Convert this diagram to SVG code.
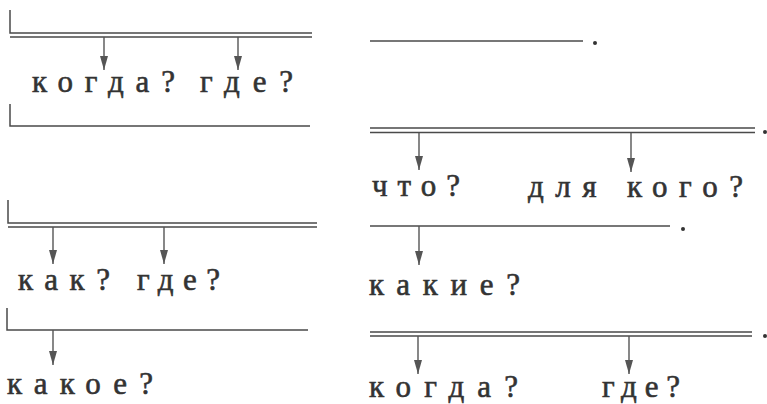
<svg xmlns="http://www.w3.org/2000/svg" width="767" height="404" viewBox="0 0 767 404">
<defs>
<style>
.ln{stroke:#4a4a4a;stroke-width:1.5;fill:none}
.ar{stroke:#555;stroke-width:1.4;fill:none;marker-end:url(#ah)}
.dot{fill:#333}
</style>
<marker id="ah" markerUnits="userSpaceOnUse" markerWidth="16" markerHeight="9" refX="14" refY="4" orient="auto">
<path d="M0,0 L14,4 L0,8 z" fill="#555"/>
</marker>
</defs>
<rect width="767" height="404" fill="#fff"/>

<g id="scheme1">
<path class="ln" d="M10,10 V33 H312 M10,37 H312"/>
<text x="32" y="92" font-family="Liberation Serif, serif" font-size="31" font-weight="normal" fill="#333" stroke="#333" stroke-width="0.6" textLength="143" lengthAdjust="spacing" style="font-family:'Liberation Serif',serif;font-size:31px">когда?</text>
<text x="200" y="92" font-family="Liberation Serif, serif" font-size="31" font-weight="normal" fill="#333" stroke="#333" stroke-width="0.6" textLength="93" lengthAdjust="spacing" style="font-family:'Liberation Serif',serif;font-size:31px">где?</text>
</g>
<g id="scheme2">
<path class="ln" d="M10,104 V126 H310"/>
</g>
<g id="scheme3">
<path class="ln" d="M8,200 V223 H317 M8,227 H317"/>
<text x="18" y="290" font-family="Liberation Serif, serif" font-size="31" font-weight="normal" fill="#333" stroke="#333" stroke-width="0.6" textLength="92" lengthAdjust="spacing" style="font-family:'Liberation Serif',serif;font-size:31px">как?</text>
<text x="137" y="290" font-family="Liberation Serif, serif" font-size="31" font-weight="normal" fill="#333" stroke="#333" stroke-width="0.6" textLength="83" lengthAdjust="spacing" style="font-family:'Liberation Serif',serif;font-size:31px">где?</text>
</g>
<g id="scheme4">
<path class="ln" d="M7,308 V330 H308"/>
<text x="7" y="394" font-family="Liberation Serif, serif" font-size="31" font-weight="normal" fill="#333" stroke="#333" stroke-width="0.6" textLength="146" lengthAdjust="spacing" style="font-family:'Liberation Serif',serif;font-size:31px">какое?</text>
</g>

<g id="line1">
<path class="ln" d="M370,41 H583"/>
<circle class="dot" cx="595" cy="43" r="2"/>
</g>
<g id="line2">
<path class="ln" d="M370,128 H755 M370,132.5 H755"/>
<circle class="dot" cx="765" cy="132" r="2"/>
<text x="372" y="196" font-family="Liberation Serif, serif" font-size="31" font-weight="normal" fill="#333" stroke="#333" stroke-width="0.6" textLength="88" lengthAdjust="spacing" style="font-family:'Liberation Serif',serif;font-size:31px">что?</text>
<text x="528" y="197" font-family="Liberation Serif, serif" font-size="31" font-weight="normal" fill="#333" stroke="#333" stroke-width="0.6" textLength="215" lengthAdjust="spacing" style="font-family:'Liberation Serif',serif;font-size:31px">для кого?</text>
</g>
<g id="line3">
<path class="ln" d="M370,226 H670"/>
<circle class="dot" cx="683" cy="229" r="2"/>
<text x="369" y="295" font-family="Liberation Serif, serif" font-size="31" font-weight="normal" fill="#333" stroke="#333" stroke-width="0.6" textLength="151" lengthAdjust="spacing" style="font-family:'Liberation Serif',serif;font-size:31px">какие?</text>
</g>
<g id="line4">
<path class="ln" d="M370,332 H752 M370,336 H752"/>
<circle class="dot" cx="765" cy="336" r="2"/>
<text x="369" y="397" font-family="Liberation Serif, serif" font-size="31" font-weight="normal" fill="#333" stroke="#333" stroke-width="0.6" textLength="149" lengthAdjust="spacing" style="font-family:'Liberation Serif',serif;font-size:31px">когда?</text>
<text x="602" y="397" font-family="Liberation Serif, serif" font-size="31" font-weight="normal" fill="#333" stroke="#333" stroke-width="0.6" textLength="78" lengthAdjust="spacing" style="font-family:'Liberation Serif',serif;font-size:31px">где?</text>
</g>

<g id="connectors">
<line class="ar" x1="104" y1="37" x2="104" y2="70"/>
<line class="ar" x1="238" y1="37" x2="238" y2="70"/>
<line class="ar" x1="53" y1="227" x2="53" y2="264"/>
<line class="ar" x1="164" y1="227" x2="164" y2="264"/>
<line class="ar" x1="53" y1="330" x2="53" y2="365"/>
<line class="ar" x1="419" y1="133" x2="419" y2="170"/>
<line class="ar" x1="631" y1="133" x2="631" y2="172"/>
<line class="ar" x1="419" y1="226" x2="419" y2="265"/>
<line class="ar" x1="418" y1="336" x2="418" y2="374"/>
<line class="ar" x1="629" y1="336" x2="629" y2="374"/>
</g>
</svg>
